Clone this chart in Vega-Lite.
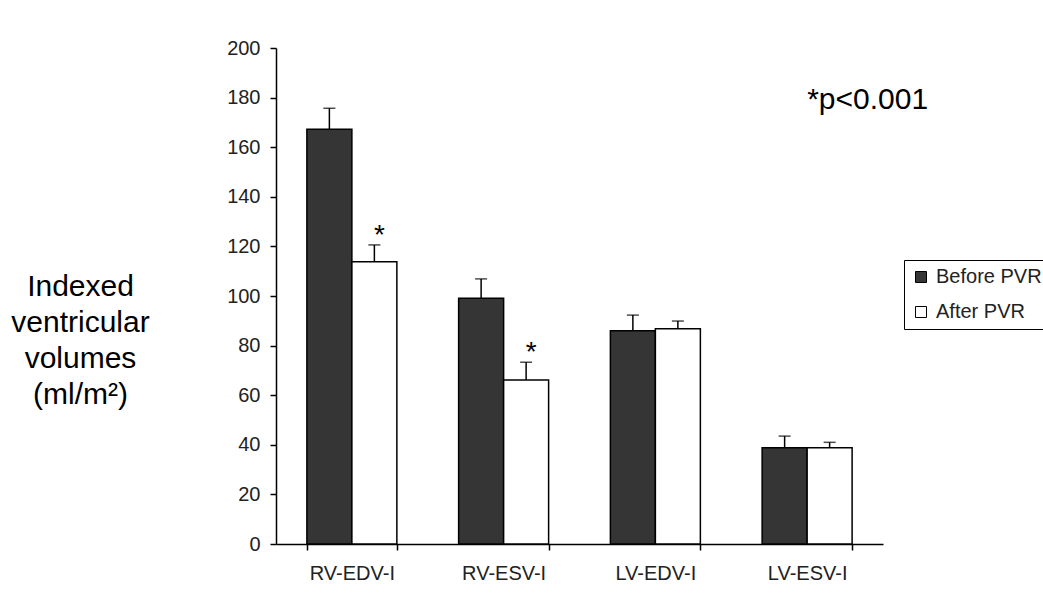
{
  "$schema": "https://vega.github.io/schema/vega-lite/v6.json",
  "width": 607,
  "height": 496,
  "autosize": {"type": "none"},
  "padding": {"left": 276, "top": 48, "right": 160, "bottom": 65},
  "background": "white",
  "config": {
    "view": {"stroke": null},
    "font": "Liberation Sans",
    "axis": {"grid": false, "domainColor": "black", "domainWidth": 1.5, "tickColor": "black", "tickWidth": 1.5, "labelColor": "#222", "labelFont": "Liberation Sans"}
  },
  "data": {
    "values": [
      {"measure": "RV-EDV-I", "group": "Before PVR", "value": 167.2, "upper": 175.7, "sig": ""},
      {"measure": "RV-EDV-I", "group": "After PVR", "value": 113.8, "upper": 120.6, "sig": "*"},
      {"measure": "RV-ESV-I", "group": "Before PVR", "value": 99.1, "upper": 106.9, "sig": ""},
      {"measure": "RV-ESV-I", "group": "After PVR", "value": 66.1, "upper": 73.3, "sig": "*"},
      {"measure": "LV-EDV-I", "group": "Before PVR", "value": 86.0, "upper": 92.3, "sig": ""},
      {"measure": "LV-EDV-I", "group": "After PVR", "value": 86.8, "upper": 89.9, "sig": ""},
      {"measure": "LV-ESV-I", "group": "Before PVR", "value": 38.8, "upper": 43.5, "sig": ""},
      {"measure": "LV-ESV-I", "group": "After PVR", "value": 38.8, "upper": 41.0, "sig": ""}
    ]
  },
  "layer": [
    {
      "mark": {"type": "bar", "stroke": "black", "strokeWidth": 1.5},
      "encoding": {
        "x": {
          "field": "measure", "type": "nominal",
          "scale": {"domain": ["RV-EDV-I", "RV-ESV-I", "LV-EDV-I", "LV-ESV-I"], "paddingInner": 0.407, "paddingOuter": 0.2035},
          "axis": {"title": null, "labelAngle": 0, "labelFontSize": 20, "tickBand": "extent", "tickSize": 6, "labelPadding": 13}
        },
        "xOffset": {"field": "group", "type": "nominal", "scale": {"domain": ["Before PVR", "After PVR"], "paddingInner": 0, "paddingOuter": 0}},
        "y": {
          "field": "value", "type": "quantitative",
          "scale": {"domain": [0, 200], "nice": false},
          "axis": {
            "values": [0, 20, 40, 60, 80, 100, 120, 140, 160, 180, 200],
            "labelFontSize": 20, "tickSize": 6, "labelPadding": 10,
            "title": ["Indexed", "ventricular", "volumes", "(ml/m²)"],
            "titleAngle": 0, "titleFontSize": 30, "titleFontWeight": "normal", "titleColor": "black",
            "titleAlign": "center", "titleBaseline": "alphabetic", "titleLineHeight": 36,
            "titleX": -196, "titleY": 247
          }
        },
        "color": {
          "field": "group", "type": "nominal",
          "scale": {"domain": ["Before PVR", "After PVR"], "range": ["#353535", "#ffffff"]},
          "legend": {
            "title": null, "orient": "none", "legendX": 628, "legendY": 212,
            "strokeColor": "black", "padding": 7,
            "symbolType": "square", "symbolSize": 121, "symbolStrokeColor": "black", "symbolStrokeWidth": 1,
            "labelFontSize": 20, "labelColor": "#222", "rowPadding": 15, "labelOffset": 5
          }
        }
      }
    },
    {
      "mark": {"type": "rule", "color": "black", "strokeWidth": 1.5},
      "encoding": {
        "x": {"field": "measure", "type": "nominal"},
        "xOffset": {"field": "group", "type": "nominal"},
        "y": {"field": "value", "type": "quantitative"},
        "y2": {"field": "upper"}
      }
    },
    {
      "mark": {"type": "tick", "color": "black", "thickness": 1.5, "size": 12, "orient": "horizontal"},
      "encoding": {
        "x": {"field": "measure", "type": "nominal"},
        "xOffset": {"field": "group", "type": "nominal"},
        "y": {"field": "upper", "type": "quantitative"}
      }
    },
    {
      "transform": [{"filter": "datum.sig == '*'"}],
      "mark": {"type": "text", "fontSize": 28, "baseline": "alphabetic", "dy": -1, "dx": 5, "color": "black"},
      "encoding": {
        "x": {"field": "measure", "type": "nominal"},
        "xOffset": {"field": "group", "type": "nominal"},
        "y": {"field": "upper", "type": "quantitative"},
        "text": {"field": "sig"}
      }
    },
    {
      "data": {"values": [{"note": "*p<0.001", "at": "LV-ESV-I", "y": 175.4}]},
      "mark": {"type": "text", "fontSize": 30, "align": "left", "baseline": "alphabetic", "color": "black"},
      "encoding": {
        "x": {"field": "at", "type": "nominal"},
        "y": {"field": "y", "type": "quantitative"},
        "text": {"field": "note"}
      }
    }
  ]
}
